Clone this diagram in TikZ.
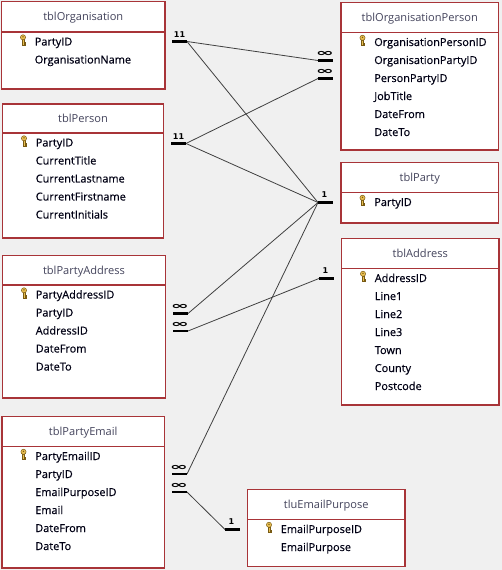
\documentclass[tikz,border=0pt]{standalone}
\usepackage{fontspec}
\setmainfont{Open Sans}
\newfontfamily\fieldfont{Open Sans}[FakeBold=0.45]
\newfontfamily\markfont{DejaVu Sans}
\definecolor{bg}{RGB}{240,240,240}
\definecolor{boxred}{RGB}{168,52,56}
\definecolor{titlecol}{RGB}{68,68,92}
\definecolor{fieldcol}{RGB}{0,0,20}
\definecolor{linecol}{RGB}{64,64,64}
\definecolor{keygold}{RGB}{232,190,80}
\definecolor{keyedge}{RGB}{120,90,20}
\tikzset{
  tbox/.style={draw=boxred, fill=white, line width=0.9pt, inner sep=0pt, outer sep=0pt},
  hline/.style={draw=boxred, line width=0.9pt},
  ttl/.style={font=\fontsize{8.3}{10}\selectfont, text=titlecol, inner sep=0pt, anchor=base},
  fld/.style={font=\fieldfont\fontsize{8.2}{10}\selectfont, text=fieldcol, inner sep=0pt, anchor=base west},
  rel/.style={draw=linecol, line width=0.6pt},
  bar/.style={draw=black, line width=2.2pt},
  one/.style={font=\markfont\bfseries\fontsize{6}{7}\selectfont, inner sep=0pt},
  many/.style={font=\markfont\bfseries\fontsize{10.5}{12}\selectfont, inner sep=0pt},
}
\newcommand\infsym{\scalebox{1.55}[0.72]{∞}}
\newcommand\keyicon[2]{%
  \begin{scope}[shift={({#1},{#2})}]
    \filldraw[fill=keygold, draw=keyedge, line width=0.35pt] (-0.9,-1.8) rectangle (0.9,3.6);
    \filldraw[fill=keygold, draw=keyedge, line width=0.35pt] (0.9,0.9) rectangle (2.2,1.8);
    \filldraw[fill=keygold, draw=keyedge, line width=0.35pt] (0.9,2.6) rectangle (2.0,3.5);
    \filldraw[fill=keygold, draw=keyedge, line width=0.35pt] (0,-4.2) circle (2.6);
    \fill[keyedge] (0,-4.6) circle (0.8);
  \end{scope}%
}
\newcommand\ertable[8]{%
  \node[tbox, minimum width={(#4-#2)*0.75pt}, minimum height={(#5-#3)*0.75pt}] (#1) at ({(#2+#4)/2},{(#3+#5)/2}) {};
  \draw[hline] (#2,#6) -- (#4,#6);
  \node[ttl] (#1-title) at ({(#2+#4)/2},{(#3+#6)/2+4.2}) {#7};
  \foreach \f [count=\i] in {#8} {
    \node[fld] (#1-f\i) at ({#2+33},{#6+13.5+18*(\i-1)}) {\f};
  }
  \keyicon{#2+21.5}{#6+9.5}
}
\newcommand\mk[4]{%
  \coordinate (#1-a) at (#2,#4);
  \coordinate (#1-b) at (#3,#4);
}
\begin{document}
\begin{tikzpicture}[x=0.75pt,y=-0.75pt]
\useasboundingbox[fill=bg] (0,0) rectangle (502,570);

\ertable{org}{1.5}{1.5}{165}{89}{32}{tblOrganisation}{PartyID,OrganisationName}
\ertable{orgp}{341}{2.5}{498.5}{150}{32.5}{tblOrganisationPerson}{OrganisationPersonID,OrganisationPartyID,PersonPartyID,JobTitle,DateFrom,DateTo}
\ertable{per}{2.5}{104}{163.5}{238}{133}{tblPerson}{PartyID,CurrentTitle,CurrentLastname,CurrentFirstname,CurrentInitials}
\ertable{party}{341}{162.5}{498.5}{223}{192.5}{tblParty}{PartyID}
\ertable{addr}{341.5}{238.5}{499}{405}{268.5}{tblAddress}{AddressID,Line1,Line2,Line3,Town,County,Postcode}
\ertable{pa}{2.5}{255.5}{165.5}{398}{285}{tblPartyAddress}{PartyAddressID,PartyID,AddressID,DateFrom,DateTo}
\ertable{pe}{2}{416.5}{164.5}{568}{446.5}{tblPartyEmail}{PartyEmailID,PartyID,EmailPurposeID,Email,DateFrom,DateTo}
\ertable{ep}{247.5}{489.5}{405}{566.5}{519.5}{tluEmailPurpose}{EmailPurposeID,EmailPurpose}

% relationship end markers
\mk{m-org}{172}{187}{41.5}
\mk{m-op1}{318}{333}{60.5}
\mk{m-op2}{318}{333}{78.5}
\mk{m-per}{171}{186}{143.5}
\mk{m-pty}{318}{333}{202.5}
\mk{m-pa1}{173}{188}{313.5}
\mk{m-pa2}{173}{188}{331}
\mk{m-adr}{319}{334}{278.5}
\mk{m-pe1}{172}{187}{474}
\mk{m-pe2}{172}{187}{492}
\mk{m-ep}{225}{240}{529.5}

% connectors
\draw[rel] (m-org-b) -- (m-op1-a);
\draw[rel] (m-org-b) -- (m-pty-a);
\draw[rel] (m-per-b) -- (m-op2-a);
\draw[rel] (m-per-b) -- (m-pty-a);
\draw[rel] (m-pa1-b) -- (m-pty-a);
\draw[rel] (m-pa2-b) -- (m-adr-a);
\draw[rel] (m-pe1-b) -- (m-pty-a);
\draw[rel] (m-pe2-b) -- (m-ep-a);

% bars
\foreach \m in {m-org,m-op1,m-op2,m-per,m-pty,m-pa1,m-pa2,m-adr,m-pe1,m-pe2,m-ep}
  \draw[bar] (\m-a) -- (\m-b);

% labels
\node[one] (l-org) at (179.5,34.5) {11};
\node[one] (l-per) at (178.5,136.5) {11};
\node[one] (l-pty) at (324.5,195) {1};
\node[one] (l-adr) at (325.5,271) {1};
\node[one] (l-ep) at (231.5,522) {1};
\node[many] (l-op1) at (325,54) {\infsym};
\node[many] (l-op2) at (325,72) {\infsym};
\node[many] (l-pa1) at (180,307) {\infsym};
\node[many] (l-pa2) at (180,324.5) {\infsym};
\node[many] (l-pe1) at (179,467.5) {\infsym};
\node[many] (l-pe2) at (179,485.5) {\infsym};
\end{tikzpicture}
\end{document}
